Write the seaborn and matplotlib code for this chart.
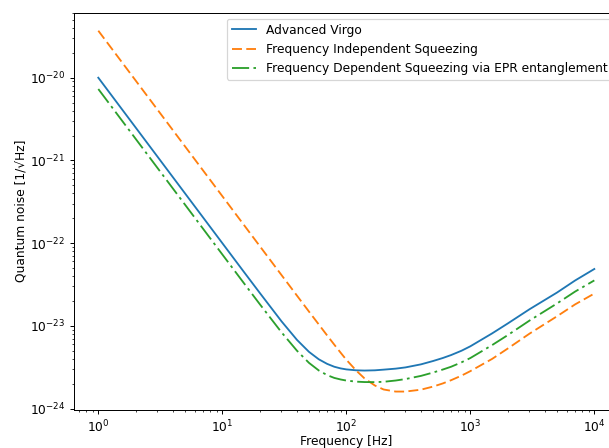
import pandas as pd
import matplotlib
matplotlib.use("Agg")
import matplotlib.pyplot as plt
import seaborn as sns

freq = [1, 2, 5, 10, 15, 20, 30, 40, 50, 60, 70, 80, 90, 100, 120, 140, 170,
        200, 250, 300, 400, 500, 600, 700, 850, 1000, 1500, 2000, 3000, 5000, 7000, 10000]

# quantum noise [1/sqrt(Hz)]
advanced_virgo = [1.0e-20, 2.5e-21, 4.0e-22, 1.0e-22, 4.446e-23, 2.512e-23, 1.135e-23,
                  6.761e-24, 4.842e-24, 3.936e-24, 3.467e-24, 3.199e-24, 3.055e-24,
                  2.972e-24, 2.897e-24, 2.877e-24, 2.897e-24, 2.951e-24, 3.034e-24,
                  3.141e-24, 3.420e-24, 3.750e-24, 4.080e-24, 4.430e-24, 5.000e-24,
                  5.650e-24, 8.100e-24, 1.065e-23, 1.585e-23, 2.523e-23, 3.532e-23, 4.864e-23]

freq_indep_sqz = [3.70e-20, 9.25e-21, 1.48e-21, 3.70e-22, 1.644e-22, 9.25e-23, 4.114e-23,
                  2.317e-23, 1.486e-23, 1.038e-23, 7.656e-24, 5.916e-24, 4.732e-24,
                  3.890e-24, 2.884e-24, 2.317e-24, 1.897e-24, 1.698e-24, 1.603e-24,
                  1.603e-24, 1.690e-24, 1.840e-24, 2.010e-24, 2.200e-24, 2.500e-24,
                  2.830e-24, 3.981e-24, 5.300e-24, 8.035e-24, 1.303e-23, 1.816e-23, 2.455e-23]

freq_dep_sqz_epr = [7.3e-21, 1.825e-21, 2.92e-22, 7.30e-23, 3.251e-23, 1.837e-23, 8.356e-24,
                    5.0e-24, 3.565e-24, 2.884e-24, 2.535e-24, 2.344e-24, 2.244e-24,
                    2.178e-24, 2.113e-24, 2.089e-24, 2.084e-24, 2.104e-24, 2.180e-24,
                    2.270e-24, 2.480e-24, 2.720e-24, 2.960e-24, 3.200e-24, 3.620e-24,
                    4.074e-24, 5.850e-24, 7.700e-24, 1.156e-23, 1.862e-23, 2.594e-23, 3.54e-23]

df = pd.DataFrame({"freq": freq,
                   "virgo": advanced_virgo,
                   "fis": freq_indep_sqz,
                   "fds": freq_dep_sqz_epr})

dpi = 88.4
fig = plt.figure(figsize=(609 / dpi, 448 / dpi), dpi=dpi)
ax = fig.add_axes([0.1207, 0.0857, 0.8959, 0.886])

sns.lineplot(data=df, x="freq", y="virgo", ax=ax, color="#1f77b4",
             linestyle="-", linewidth=1.5, label="Advanced Virgo")
sns.lineplot(data=df, x="freq", y="fis", ax=ax, color="#ff7f0e",
             linestyle=(0, (5.4, 2.35)), linewidth=1.5,
             label="Frequency Independent Squeezing")
sns.lineplot(data=df, x="freq", y="fds", ax=ax, color="#2ca02c",
             linestyle=(0, (9.3, 2.35, 1.46, 2.35)), linewidth=1.5,
             label="Frequency Dependent Squeezing via EPR entanglement")

ax.set_xscale("log")
ax.set_yscale("log")
ax.set_xlabel("Frequency [Hz]", labelpad=0.5)
ax.set_ylabel("Quantum noise [1/\u221aHz]", labelpad=2)
ax.legend(loc="upper right")

fig.savefig("out.png", dpi=dpi)
